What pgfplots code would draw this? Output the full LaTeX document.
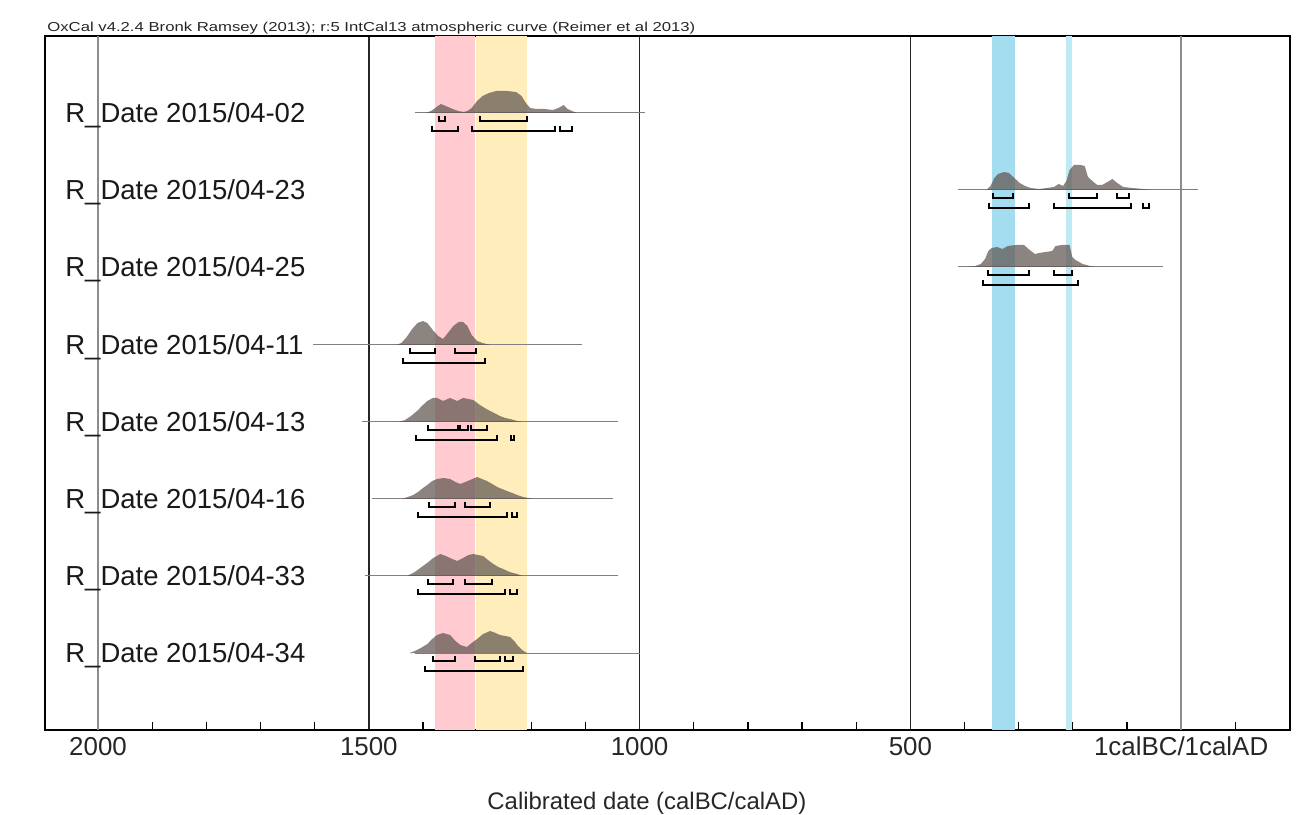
\documentclass[border=0pt]{standalone}
\usepackage{pgfplots}
\pgfplotsset{compat=1.18}
\usepackage{fontspec}
\setmainfont{Liberation Sans}
\usepackage{graphicx}
\definecolor{distfill}{RGB}{95,85,80}
\definecolor{bandpink}{RGB}{255,202,208}
\definecolor{bandyellow}{RGB}{255,238,187}
\definecolor{bandblue}{RGB}{165,221,240}
\definecolor{bandblue2}{RGB}{190,234,245}
\tikzset{
  base/.style={black!50, line width=0.5bp},
  dist/.style={draw=none, fill=distfill, fill opacity=0.72},
  brk/.style={black, line width=1bp},
  lab/.style={anchor=base west, xshift=10bp, yshift=-4.8bp, inner sep=0pt, font=\fontsize{13.8}{16}\selectfont, text=black!90},
}
\newcommand{\br}[4]{\addplot[brk] coordinates {(#1,#4) (#1,#3) (#2,#3) (#2,#4)};}
\begin{document}
\begin{tikzpicture}
\begin{axis}[
  width=622.5bp, height=347bp, scale only axis,
  x dir=reverse, xmin=-201, xmax=2098, ymin=0, ymax=694,
  axis line style={black, line width=1bp},
  xtick={1500,1000,500}, xticklabels={1500,1000,500},
  extra x ticks={2000,0}, extra x tick labels={2000,1calBC/1calAD},
  extra x tick style={grid style={black!45, line width=0.7bp}},
  minor xtick={-200,-100,100,200,300,400,600,700,800,900,1100,1200,1300,1400,1600,1700,1800,1900},
  xmajorgrids, grid style={black!85, line width=0.7bp},
  ytick=\empty, xtick pos=left,
  major tick length=0pt, minor tick length=4bp, tick align=inside,
  minor tick style={black, line width=0.6bp},
  ticklabel style={font=\fontsize{13}{15}\selectfont, text=black!85},
  xlabel={Calibrated date (calBC/calAD)},
  xlabel style={font=\fontsize{12}{14}\selectfont, text=black!85, at={(axis description cs:0.4835,0)}, anchor=center, yshift=-36.5bp},
]
\coordinate (bl) at (rel axis cs:0,0);
\coordinate (tr) at (rel axis cs:1,1);
% bands
\addplot[draw=none, fill=bandpink] coordinates {(1378,0) (1304,0) (1304,694) (1378,694)} -- cycle;
\addplot[draw=none, fill=bandyellow] coordinates {(1302,0) (1208,0) (1208,694) (1302,694)} -- cycle;
\addplot[draw=none, fill=bandblue] coordinates {(349,0) (306,0) (306,694) (349,694)} -- cycle;
\addplot[draw=none, fill=bandblue2] coordinates {(212,0) (201,0) (201,694) (212,694)} -- cycle;
% baselines
\addplot[base] coordinates {(1415,617) (990,617)};
\addplot[base] coordinates {(412,540) (-31,540)};
\addplot[base] coordinates {(412,463) (33,463)};
\addplot[base] coordinates {(1603,385) (1106,385)};
\addplot[base] coordinates {(1512,308) (1040,308)};
\addplot[base] coordinates {(1494,231) (1049,231)};
\addplot[base] coordinates {(1507,154) (1040,154)};
\addplot[base] coordinates {(1415,77) (999,77)};
% row 1
\addplot[dist] table[x=x, y expr=\thisrow{h}+617] {
x h
1395 0
1385 2
1375 6
1367 9
1358 7
1345 4
1335 2
1325 1
1318 2
1310 5
1300 12
1290 17
1278 20
1265 22
1245 22
1228 21
1218 17
1210 10
1202 5
1190 4
1175 4
1160 3
1150 5
1140 8
1133 4
1125 2
1115 0
} -- cycle;
% row 2
\addplot[dist] table[x=x, y expr=\thisrow{h}+540] {
x h
360 0
352 4
345 12
338 16
327 18
318 17
308 12
298 7
288 4
278 2
262 1
248 2
235 3
226 6
218 4
212 9
206 20
198 25
186 25
178 24
172 13
164 9
155 5
146 5
136 8
127 11
118 7
107 3
90 2
70 1
55 0
} -- cycle;
% row 3
\addplot[dist] table[x=x, y expr=\thisrow{h}+463] {
x h
395 0
380 1
370 3
362 8
356 16
350 19
340 20
330 18
320 21
305 22
290 22
282 18
270 13
262 14
250 15
238 16
232 21
220 22
206 22
201 10
195 7
182 3
168 1
155 0
} -- cycle;
% row 4
\addplot[dist] table[x=x, y expr=\thisrow{h}+385] {
x h
1450 0
1440 2
1430 8
1420 16
1410 22
1400 24
1392 22
1382 15
1372 9
1363 6
1354 12
1344 19
1334 23
1326 23
1318 19
1310 10
1300 4
1290 2
1275 0
} -- cycle;
% row 5
\addplot[dist] table[x=x, y expr=\thisrow{h}+308] {
x h
1445 0
1433 2
1422 6
1411 11
1400 17
1392 21
1382 24
1374 24
1363 21
1350 24
1337 21
1326 24
1316 23
1307 22
1295 17
1286 14
1276 11
1265 8
1258 6
1248 4
1239 3
1226 1
1215 0
} -- cycle;
% row 6
\addplot[dist] table[x=x, y expr=\thisrow{h}+231] {
x h
1440 0
1428 2
1418 4
1409 7
1400 11
1392 14
1383 18
1374 20
1362 21
1350 20
1340 17
1331 15
1322 17
1313 19
1300 22
1291 20
1282 18
1272 15
1263 12
1254 10
1245 8
1235 6
1226 4
1215 2
1205 1
1195 0
} -- cycle;
% row 7
\addplot[dist] table[x=x, y expr=\thisrow{h}+154] {
x h
1430 0
1418 3
1410 6
1400 10
1390 14
1381 18
1368 22
1358 20
1350 18
1337 15
1326 18
1316 21
1307 22
1298 21
1289 20
1280 16
1270 12
1261 9
1252 7
1240 4
1226 2
1215 0
} -- cycle;
% row 8
\addplot[dist] table[x=x, y expr=\thisrow{h}+77] {
x h
1425 0
1415 2
1404 5
1392 9
1383 14
1374 18
1363 20
1350 18
1340 12
1331 8
1319 6
1310 10
1300 14
1289 19
1276 22
1266 20
1258 18
1248 17
1239 16
1230 11
1226 8
1217 3
1208 0
} -- cycle;
% brackets row 1
\br{1371}{1360}{609}{614}
\br{1295}{1208}{609}{614}
\br{1383}{1335}{599}{604}
\br{1309}{1156}{599}{604}
\br{1147}{1125}{599}{604}
% row 2
\br{347}{310}{532}{537}
\br{208}{156}{532}{537}
\br{118}{96}{532}{537}
\br{355}{281}{522}{527}
\br{235}{92}{522}{527}
\br{70}{60}{522}{527}
% row 3
\br{356}{281}{455}{460}
\br{235}{201}{455}{460}
\br{366}{190}{445}{450}
% row 4
\br{1424}{1378}{377}{382}
\br{1341}{1302}{377}{382}
\br{1437}{1285}{367}{372}
% row 5
\br{1391}{1336}{300}{305}
\br{1331}{1316}{300}{305}
\br{1311}{1282}{300}{305}
\br{1413}{1263}{290}{295}
\br{1238}{1232}{290}{295}
% row 6
\br{1389}{1341}{223}{228}
\br{1322}{1276}{223}{228}
\br{1409}{1245}{213}{218}
\br{1236}{1226}{213}{218}
% row 7
\br{1391}{1345}{146}{151}
\br{1322}{1272}{146}{151}
\br{1409}{1248}{136}{141}
\br{1240}{1226}{136}{141}
% row 8
\br{1381}{1341}{69}{74}
\br{1304}{1258}{69}{74}
\br{1248}{1233}{69}{74}
\br{1396}{1216}{59}{64}
% labels
\node[lab] at (axis cs:2098,617) {R\_Date 2015/04-02};
\node[lab] at (axis cs:2098,540) {R\_Date 2015/04-23};
\node[lab] at (axis cs:2098,463) {R\_Date 2015/04-25};
\node[lab] at (axis cs:2098,385) {R\_Date 2015/04-11};
\node[lab] at (axis cs:2098,308) {R\_Date 2015/04-13};
\node[lab] at (axis cs:2098,231) {R\_Date 2015/04-16};
\node[lab] at (axis cs:2098,154) {R\_Date 2015/04-33};
\node[lab] at (axis cs:2098,77) {R\_Date 2015/04-34};
\end{axis}
\node[anchor=south west, inner sep=0pt, text=black!85] at ([xshift=1bp, yshift=0.8bp]bl |- tr) {\resizebox{324bp}{\height}{\fontsize{6.5}{7}\selectfont OxCal v4.2.4 Bronk Ramsey (2013); r:5 IntCal13 atmospheric curve (Reimer et al 2013)}};
\pgfresetboundingbox
\path[use as bounding box] ([xshift=-22.5bp, yshift=-42.5bp]bl) rectangle ([xshift=3bp, yshift=18bp]tr);
\end{tikzpicture}
\end{document}
